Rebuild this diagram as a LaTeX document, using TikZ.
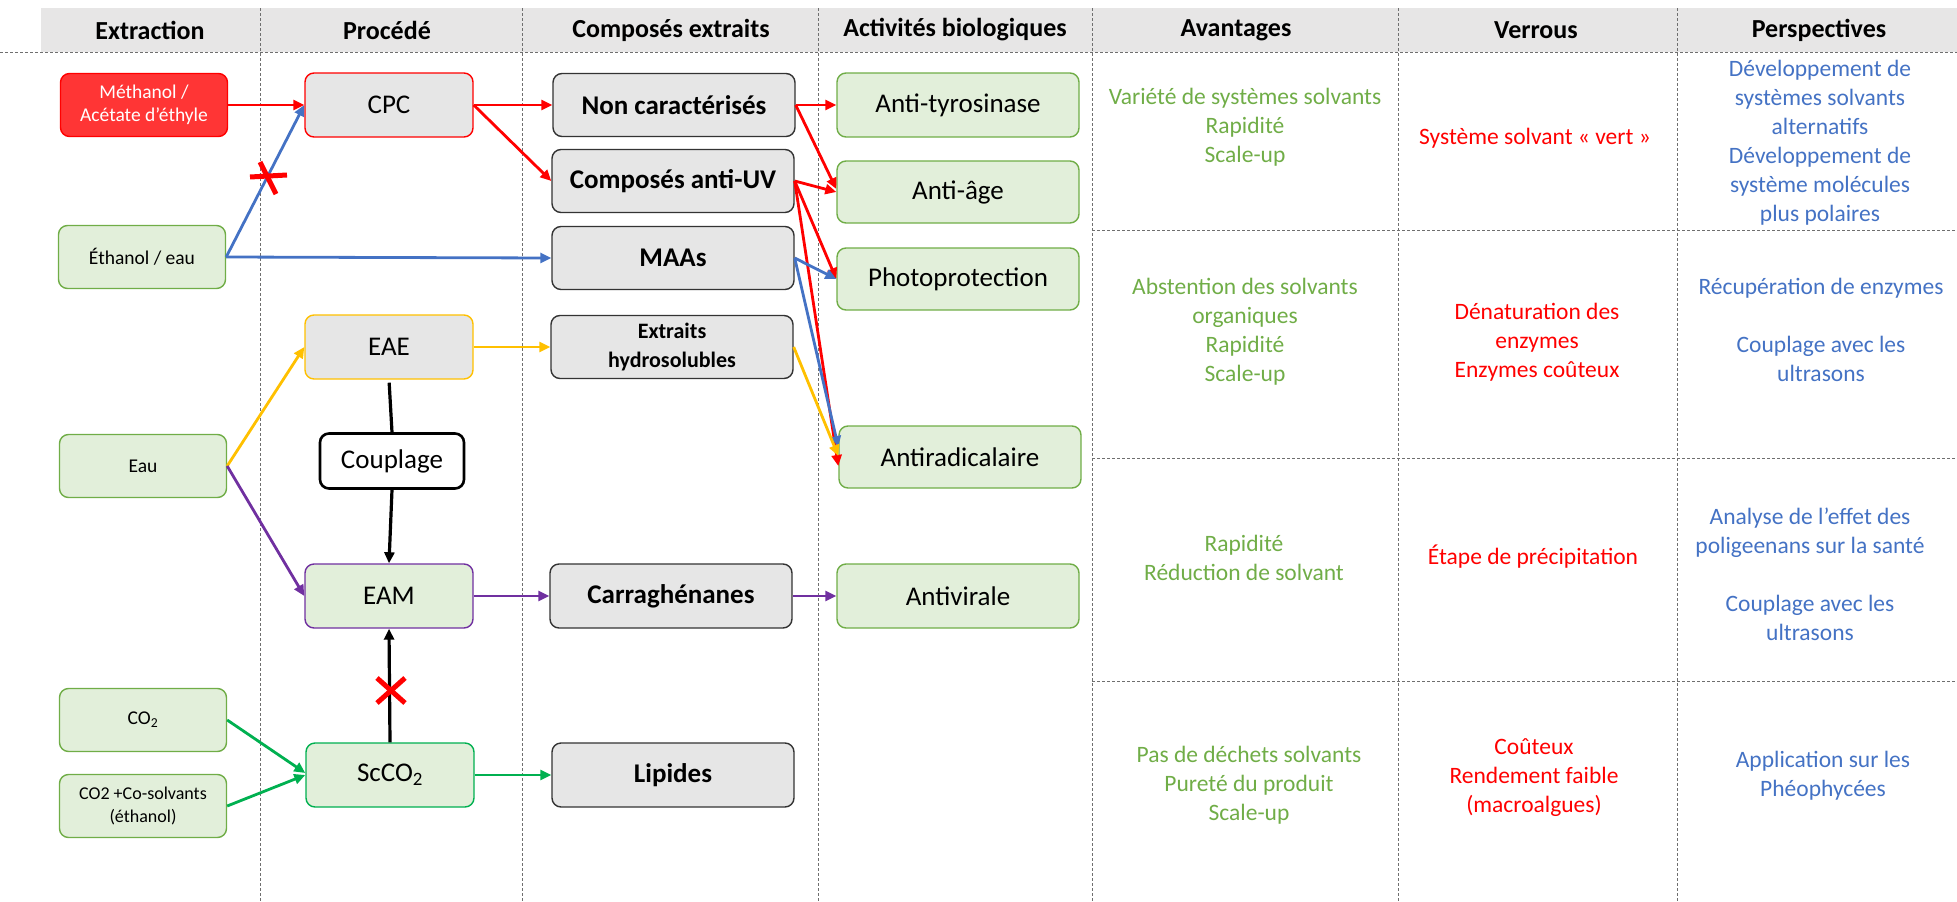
\documentclass[tikz,border=0pt]{standalone}
\usepackage{fontspec}
\setmainfont{Carlito}
\usetikzlibrary{arrows.meta}
\definecolor{boxgray}{HTML}{E6E6E6}
\definecolor{hdrgray}{HTML}{E7E6E6}
\definecolor{lgreen}{HTML}{E2EFDA}
\definecolor{bgreen}{HTML}{70AD47}
\definecolor{cred}{HTML}{FF0000}
\definecolor{redfill}{HTML}{FF3535}
\definecolor{cblue}{HTML}{4472C4}
\definecolor{cyellow}{HTML}{FFC000}
\definecolor{cpurple}{HTML}{7030A0}
\definecolor{cgreen}{HTML}{00B050}
\definecolor{divgray}{HTML}{6F6F6F}
\begin{document}
\begin{tikzpicture}[x=1pt,y=-1pt,
  box/.style={draw, rounded corners=9pt, line width=1.4pt, align=center, inner sep=0pt},
  srcbox/.style={box, fill=lgreen, draw=bgreen, minimum width=167pt, minimum height=63pt, font=\fontsize{19.5}{23}\selectfont},
  procbox/.style={box, fill=boxgray, minimum width=168pt, minimum height=64pt, font=\fontsize{27}{32}\selectfont},
  compbox/.style={box, fill=boxgray, draw=black!80, minimum width=242pt, minimum height=63pt, font=\bfseries\fontsize{27}{32}\selectfont},
  actbox/.style={box, fill=lgreen, draw=bgreen, minimum width=242pt, minimum height=63pt, font=\fontsize{27}{32}\selectfont},
  arr/.style={line width=2.8pt, -{Triangle[length=11pt,width=10pt]}},
  hdr/.style={font=\bfseries\fontsize{26}{30}\selectfont},
  tbl/.style={align=center, font=\fontsize{23.5}{29}\selectfont},
  adv/.style={tbl, text=bgreen},
  lock/.style={tbl, text=cred},
  persp/.style={tbl, text=cblue},
  divider/.style={draw=divgray, line width=0.9pt, dash pattern=on 3pt off 2pt},
  cross/.style={draw=cred, line width=5pt}
]
\useasboundingbox (0,0) rectangle (1957,902);
% header band
\fill[hdrgray] (41,8) rectangle (1957,52);
% dividers
\foreach \xx in {260,522,818,1092,1398,1677} {\draw[divider] (\xx,8) -- (\xx,902);}
\draw[divider] (0,52) -- (1957,52);
\foreach \yy in {230,458,681} {\draw[divider] (1092,\yy) -- (1957,\yy);}
% headers
\node[hdr] (h1) at (150,30) {Extraction};
\node[hdr] (h2) at (387,30) {Procédé};
\node[hdr] (h3) at (671,30) {Composés extraits};
\node[hdr] (h4) at (955,30) {Activités biologiques};
\node[hdr] (h5) at (1236,30) {Avantages};
\node[hdr] (h6) at (1536,30) {Verrous};
\node[hdr] (h7) at (1819,30) {Perspectives};
% extraction
\node[srcbox, fill=redfill, draw=cred, text=white] (meth) at (144,105) {Méthanol /\\Acétate d’éthyle};
\node[srcbox] (etha) at (142,257) {Éthanol / eau};
\node[srcbox] (eau) at (143,466) {Eau};
\node[srcbox] (co2) at (143,720) {CO\textsubscript{2}};
\node[srcbox, font=\fontsize{18}{23}\selectfont] (co2c) at (143,806) {CO2 +Co-solvants\\(éthanol)};
% procedes
\node[procbox, draw=cred] (cpc) at (389,105) {CPC};
\node[procbox, draw=cyellow] (eae) at (389,347) {EAE};
\node[box, fill=white, draw=black, line width=2.6pt, minimum width=144pt, minimum height=55pt, font=\fontsize{27}{32}\selectfont] (coup) at (392,461) {Couplage};
\node[procbox, fill=lgreen, draw=cpurple] (eam) at (389,596) {EAM};
\node[procbox, fill=lgreen, draw=cgreen] (sc) at (390,775) {ScCO\textsubscript{2}};
% composes
\node[compbox] (nc) at (674,105) {Non caractérisés};
\node[compbox] (uv) at (673,181) {Composés anti-UV};
\node[compbox] (maa) at (673,258) {MAAs};
\node[compbox, font=\bfseries\fontsize{22}{29}\selectfont] (ext) at (672,347) {Extraits\\hydrosolubles};
\node[compbox, minimum height=64pt] (car) at (671,596) {Carraghénanes};
\node[compbox, minimum height=64pt] (lip) at (673,775) {Lipides};
% activites
\node[actbox, minimum height=64pt] (tyr) at (958,105) {Anti-tyrosinase};
\node[actbox, minimum height=62pt] (age) at (958,192) {Anti-âge};
\node[actbox, minimum height=62pt] (pho) at (958,279) {Photoprotection};
\node[actbox, minimum height=62pt] (rad) at (960,457) {Antiradicalaire};
\node[actbox, minimum height=64pt] (vir) at (958,596) {Antivirale};
% connectors
\draw[arr, cred] (meth.east) -- (cpc.west);
\draw[arr, cblue] (etha.east) -- (cpc.west);
\draw[arr, cblue] (etha.east) -- (maa.west);
\draw[arr, cred] (cpc.east) -- (nc.west);
\draw[arr, cred] (cpc.east) -- (uv.west);
\draw[arr, cred] (nc.east) -- (tyr.west);
\draw[arr, cred] (nc.east) -- ([yshift=3pt]age.west);
\draw[arr, cred] (uv.east) -- (age.west);
\draw[arr, cred] (uv.east) -- (pho.west);
\draw[arr, cred] (uv.east) -- ([yshift=-9pt]rad.west);
\draw[arr, cblue] (maa.east) -- (pho.west);
\draw[arr, cblue] (maa.east) -- ([yshift=10pt]rad.west);
\draw[arr, cyellow] (ext.east) -- ([yshift=1pt]rad.west);
\draw[arr, cyellow] (eae.east) -- (ext.west);
\draw[arr, cyellow] (eau.east) -- (eae.west);
\draw[arr, cpurple] (eau.east) -- (eam.west);
\draw[line width=3.2pt, shorten <=3pt] (eae.south) -- (coup.north);
\draw[arr, line width=3.2pt] (coup.south) -- (eam.north);
\draw[arr, line width=3.2pt] (sc.north) -- (eam.south);
\draw[arr, cpurple] (eam.east) -- (car.west);
\draw[arr, cpurple] (car.east) -- (vir.west);
\draw[arr, cgreen] (co2.east) -- ([yshift=2pt]sc.west);
\draw[arr, cgreen] (co2c.east) -- (sc.west);
\draw[arr, cgreen] (sc.east) -- (lip.west);
% crosses
\draw[cross] (250,177) -- (287,175);
\draw[cross] (260,162) -- (276,194);
\draw[cross] (377,678) -- (405,703);
\draw[cross] (377,703) -- (405,678);
% table
\node[adv] (a1) at (1245,127) {Variété de systèmes solvants\\Rapidité\\Scale-up};
\node[lock] (l1) at (1535,138) {Système solvant « vert »};
\node[persp] (p1) at (1820,143) {Développement de\\systèmes solvants\\alternatifs\\Développement de\\système molécules\\plus polaires};
\node[adv] (a2) at (1245,332) {Abstention des solvants\\organiques\\Rapidité\\Scale-up};
\node[lock] (l2) at (1537,342) {Dénaturation des\\enzymes\\Enzymes coûteux};
\node[persp] (p2) at (1821,330) {Récupération de enzymes\\\mbox{}\\Couplage avec les\\ultrasons};
\node[adv] (a3) at (1244,558) {Rapidité\\Réduction de solvant};
\node[lock] (l3) at (1533,557) {Étape de précipitation};
\node[persp] (p3) at (1810,574) {Analyse de l’effet des\\poligeenans sur la santé\\\mbox{}\\Couplage avec les\\ultrasons};
\node[adv] (a4) at (1249,785) {Pas de déchets solvants\\Pureté du produit\\Scale-up};
\node[lock] (l4) at (1534,778) {Coûteux\\Rendement faible\\(macroalgues)};
\node[persp] (p4) at (1823,776) {Application sur les\\Phéophycées};
\end{tikzpicture}
\end{document}
